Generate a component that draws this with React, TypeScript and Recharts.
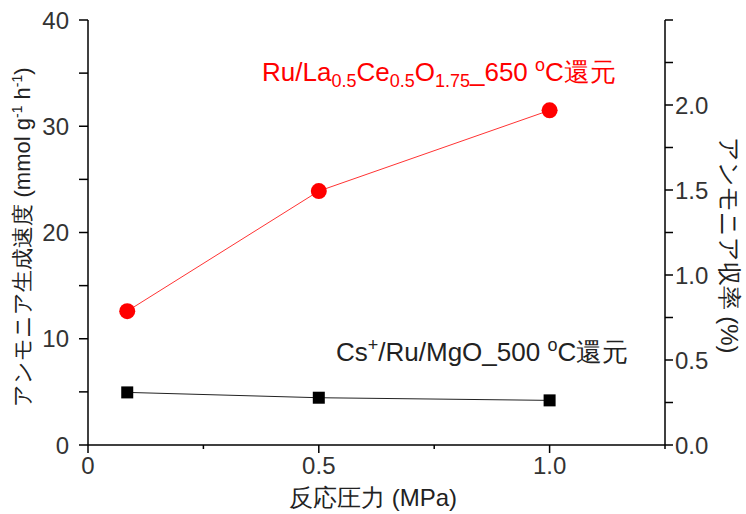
import { ComposedChart, Line, XAxis, YAxis, Customized } from "recharts"

// reaction pressure (MPa)
const pressures = [0.085, 0.5, 1.0]
// ammonia synthesis rate (mmol g-1 h-1)
const ruLaCeRates = [12.6, 23.9, 31.5]
const csRuMgoRates = [4.95, 4.45, 4.2]

const xTicks = [0, 0.25, 0.5, 0.75, 1.0, 1.25]
const xLabels: Record<number, string> = { 0: "0", 0.5: "0.5", 1: "1.0" }
const leftTicks = [0, 5, 10, 15, 20, 25, 30, 35, 40]
const rightTicks = [0, 0.25, 0.5, 0.75, 1.0, 1.25, 1.5, 1.75, 2.0, 2.25, 2.5]

const data = pressures.map((p, i) => ({
  p,
  ru: ruLaCeRates[i],
  cs: csRuMgoRates[i],
}))

const FONT = "'Liberation Sans', Arial, sans-serif"
const FS = 24

const XTick = (props: any) => {
  const { x, y, payload } = props
  const v = payload.value
  const label = xLabels[v]
  const axisY = y - 11
  return (
    <g>
      <line x1={x} y1={axisY} x2={x} y2={axisY + (label ? 8 : 4)} stroke="#000" strokeWidth={1.5} />
      {label && (
        <text x={x} y={axisY + 11} dy="0.75em" textAnchor="middle" fontSize={FS} fontFamily={FONT} fill="#333">
          {label}
        </text>
      )}
    </g>
  )
}

const LeftTick = (props: any) => {
  const { x, y, payload } = props
  const v = payload.value
  const axisX = x + 18
  return (
    <g>
      <line x1={axisX - 9} y1={y} x2={axisX} y2={y} stroke="#000" strokeWidth={1.5} />
      {v % 10 === 0 && (
        <text x={axisX - 19} y={y} dy="0.36em" textAnchor="end" fontSize={FS} fontFamily={FONT} fill="#333">
          {v}
        </text>
      )}
    </g>
  )
}

const RightTick = (props: any) => {
  const { x, y, payload } = props
  const v = payload.value
  const axisX = x - 10
  const major = Math.abs(v * 2 - Math.round(v * 2)) < 1e-6 && v < 2.4
  return (
    <g>
      <line x1={axisX} y1={y} x2={axisX + 8} y2={y} stroke="#000" strokeWidth={1.5} />
      {major && (
        <text x={axisX + 10} y={y} dy="0.36em" textAnchor="start" fontSize={FS} fontFamily={FONT} fill="#333">
          {v.toFixed(1)}
        </text>
      )}
    </g>
  )
}

const Annotations = () => (
  <g fontFamily={FONT} fontSize={22}>
    <text x={262} y={81} fill="#ff0000" fontSize={26}>
      Ru/La
      <tspan fontSize={18} dy={6}>0.5</tspan>
      <tspan dy={-6}>Ce</tspan>
      <tspan fontSize={18} dy={6}>0.5</tspan>
      <tspan dy={-6}>O</tspan>
      <tspan fontSize={18} dy={6}>1.75</tspan>
      <tspan dy={-6}>_650 </tspan>
      <tspan fontSize={18} dy={-10}>o</tspan>
      <tspan dy={10}>C還元</tspan>
    </text>
    <text x={336} y={361} fill="#222" fontSize={26}>
      Cs
      <tspan fontSize={18} dy={-10}>+</tspan>
      <tspan dy={10}>/Ru/MgO_500 </tspan>
      <tspan fontSize={18} dy={-10}>o</tspan>
      <tspan dy={10}>C還元</tspan>
    </text>
    <text transform="translate(30,237) rotate(-90)" textAnchor="middle" fill="#222">
      アンモニア生成速度 (mmol g
      <tspan fontSize={14} dy={-8}>-1</tspan>
      <tspan dy={8}> h</tspan>
      <tspan fontSize={14} dy={-8}>-1</tspan>
      <tspan dy={8}>)</tspan>
    </text>
    <text transform="translate(721,245) rotate(90)" textAnchor="middle" fill="#222" fontSize={24}>
      アンモニア収率 (%)
    </text>
    <text x={373} y={506} textAnchor="middle" fill="#222" fontSize={24}>
      反応圧力 (MPa)
    </text>
  </g>
)

const RedDot = (props: any) => {
  const { cx, cy } = props
  return <circle cx={cx} cy={cy} r={8} fill="#ff0000" />
}

const BlackSquare = (props: any) => {
  const { cx, cy } = props
  return <rect x={cx - 6} y={cy - 6} width={12} height={12} fill="#000" />
}

export default function App() {
  return (
    <div style={{ position: "absolute", left: 0, top: 0, background: "#fff" }}>
      <ComposedChart
        width={746}
        height={514}
        data={data}
        margin={{ top: 20, right: 0, bottom: 0, left: 0 }}
      >
        <XAxis
          dataKey="p"
          type="number"
          domain={[0, 1.25]}
          ticks={xTicks}
          height={69}
          tickLine={false}
          tickSize={8}
          tickMargin={3}
          tick={<XTick />}
          axisLine={{ stroke: "#000", strokeWidth: 1.5 }}
          interval={0}
        />
        <YAxis
          yAxisId="left"
          type="number"
          domain={[0, 40]}
          ticks={leftTicks}
          width={88}
          tickLine={false}
          tickSize={8}
          tickMargin={10}
          tick={<LeftTick />}
          axisLine={{ stroke: "#000", strokeWidth: 1.5 }}
          interval={0}
        />
        <YAxis
          yAxisId="right"
          orientation="right"
          type="number"
          domain={[0, 2.5]}
          ticks={rightTicks}
          width={81}
          tickLine={false}
          tickSize={8}
          tickMargin={2}
          tick={<RightTick />}
          axisLine={{ stroke: "#000", strokeWidth: 1.5 }}
          interval={0}
          allowDataOverflow
        />
        <Line
          yAxisId="right"
          dataKey="none"
          stroke="none"
          dot={false}
          activeDot={false}
          isAnimationActive={false}
        />
        <Line
          yAxisId="left"
          dataKey="ru"
          stroke="#ff3333"
          strokeWidth={1}
          dot={<RedDot />}
          isAnimationActive={false}
        />
        <Line
          yAxisId="left"
          dataKey="cs"
          stroke="#222"
          strokeWidth={1}
          dot={<BlackSquare />}
          isAnimationActive={false}
        />
        <Customized component={Annotations} />
      </ComposedChart>
    </div>
  )
}
